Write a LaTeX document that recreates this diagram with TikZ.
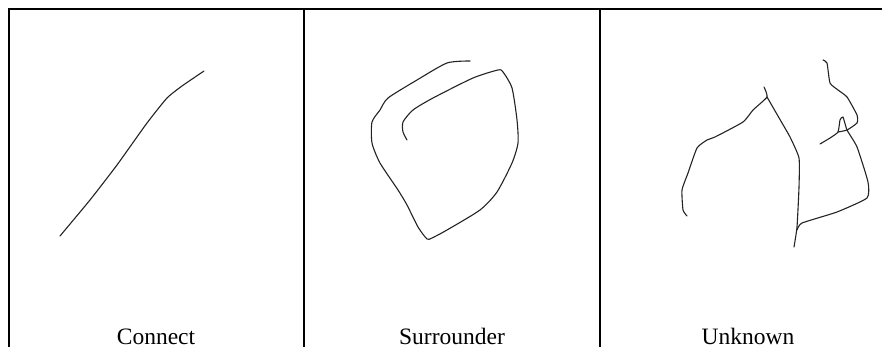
\documentclass[tikz,border=0pt]{standalone}
\usepackage{fontspec}
\setmainfont{Liberation Serif}
\usepackage{tikz}
\usetikzlibrary{positioning}
\definecolor{inkgray}{RGB}{35,35,35}

\begin{document}
\begin{tikzpicture}[x=1pt, y=-1pt,
    rule/.style={line width=2pt, black},
    ink/.style={inkgray, line width=1.1pt, line join=round, line cap=round},
    caption/.style={font=\fontsize{23.5}{28}\selectfont, anchor=base, inner sep=0pt}]
  \useasboundingbox (0,0) rectangle (882,347);

  % table lines
  \draw[rule] (8.5,9) -- (882,9);
  \foreach \x in {8.5, 304, 600}{
    \draw[rule] (\x,8) -- (\x,347);
  }

  % captions
  \foreach \x/\name/\txt in {156/capA/Connect, 452/capB/Surrounder, 748/capC/Unknown}{
    \node[caption] (\name) at (\x,344) {\txt};
  }

  % connect gesture
  \draw[ink] plot[smooth, tension=0.3] coordinates {(60,236) (90,200) (117,165)
    (147,123) (167,98) (182,86) (204,71)};

  % surrounder gesture
  \draw[ink] plot[smooth, tension=0.4] coordinates {(407,140) (403,132) (403,122)
    (413,110) (433,98) (473,78) (498,70) (503,72) (512,88) (517,120) (518,143)
    (512,163) (497,192) (480,210) (447,230) (432,238) (427,239) (418,227) (407,205)
    (398,190) (380,163) (372,143) (372,122) (380,110) (388,98) (417,80) (447,63)
    (470,61)};

  % unknown gesture
  \draw[ink] plot[smooth, tension=0.3] coordinates {(687,216) (683,210) (682,190)
    (688,173) (697,148) (707,140) (715,137) (743,122) (753,110) (767,97) (764,87)};
  \draw[ink] plot[smooth, tension=0.3] coordinates {(767,97) (782,123) (790,137)
    (799,158) (799,187) (797,227) (794,247)};
  \draw[ink] plot[smooth, tension=0.3] coordinates {(797,230) (802,223) (837,212)
    (867,198) (868,182) (857,147) (847,130) (843,117) (840,120) (838,132)
    (830,138) (820,144)};
  \draw[ink] plot[smooth, tension=0.3] coordinates {(823,60) (827,63) (830,83)
    (838,90) (847,97) (857,115) (857,123) (847,130) (838,132)};
\end{tikzpicture}
\end{document}
